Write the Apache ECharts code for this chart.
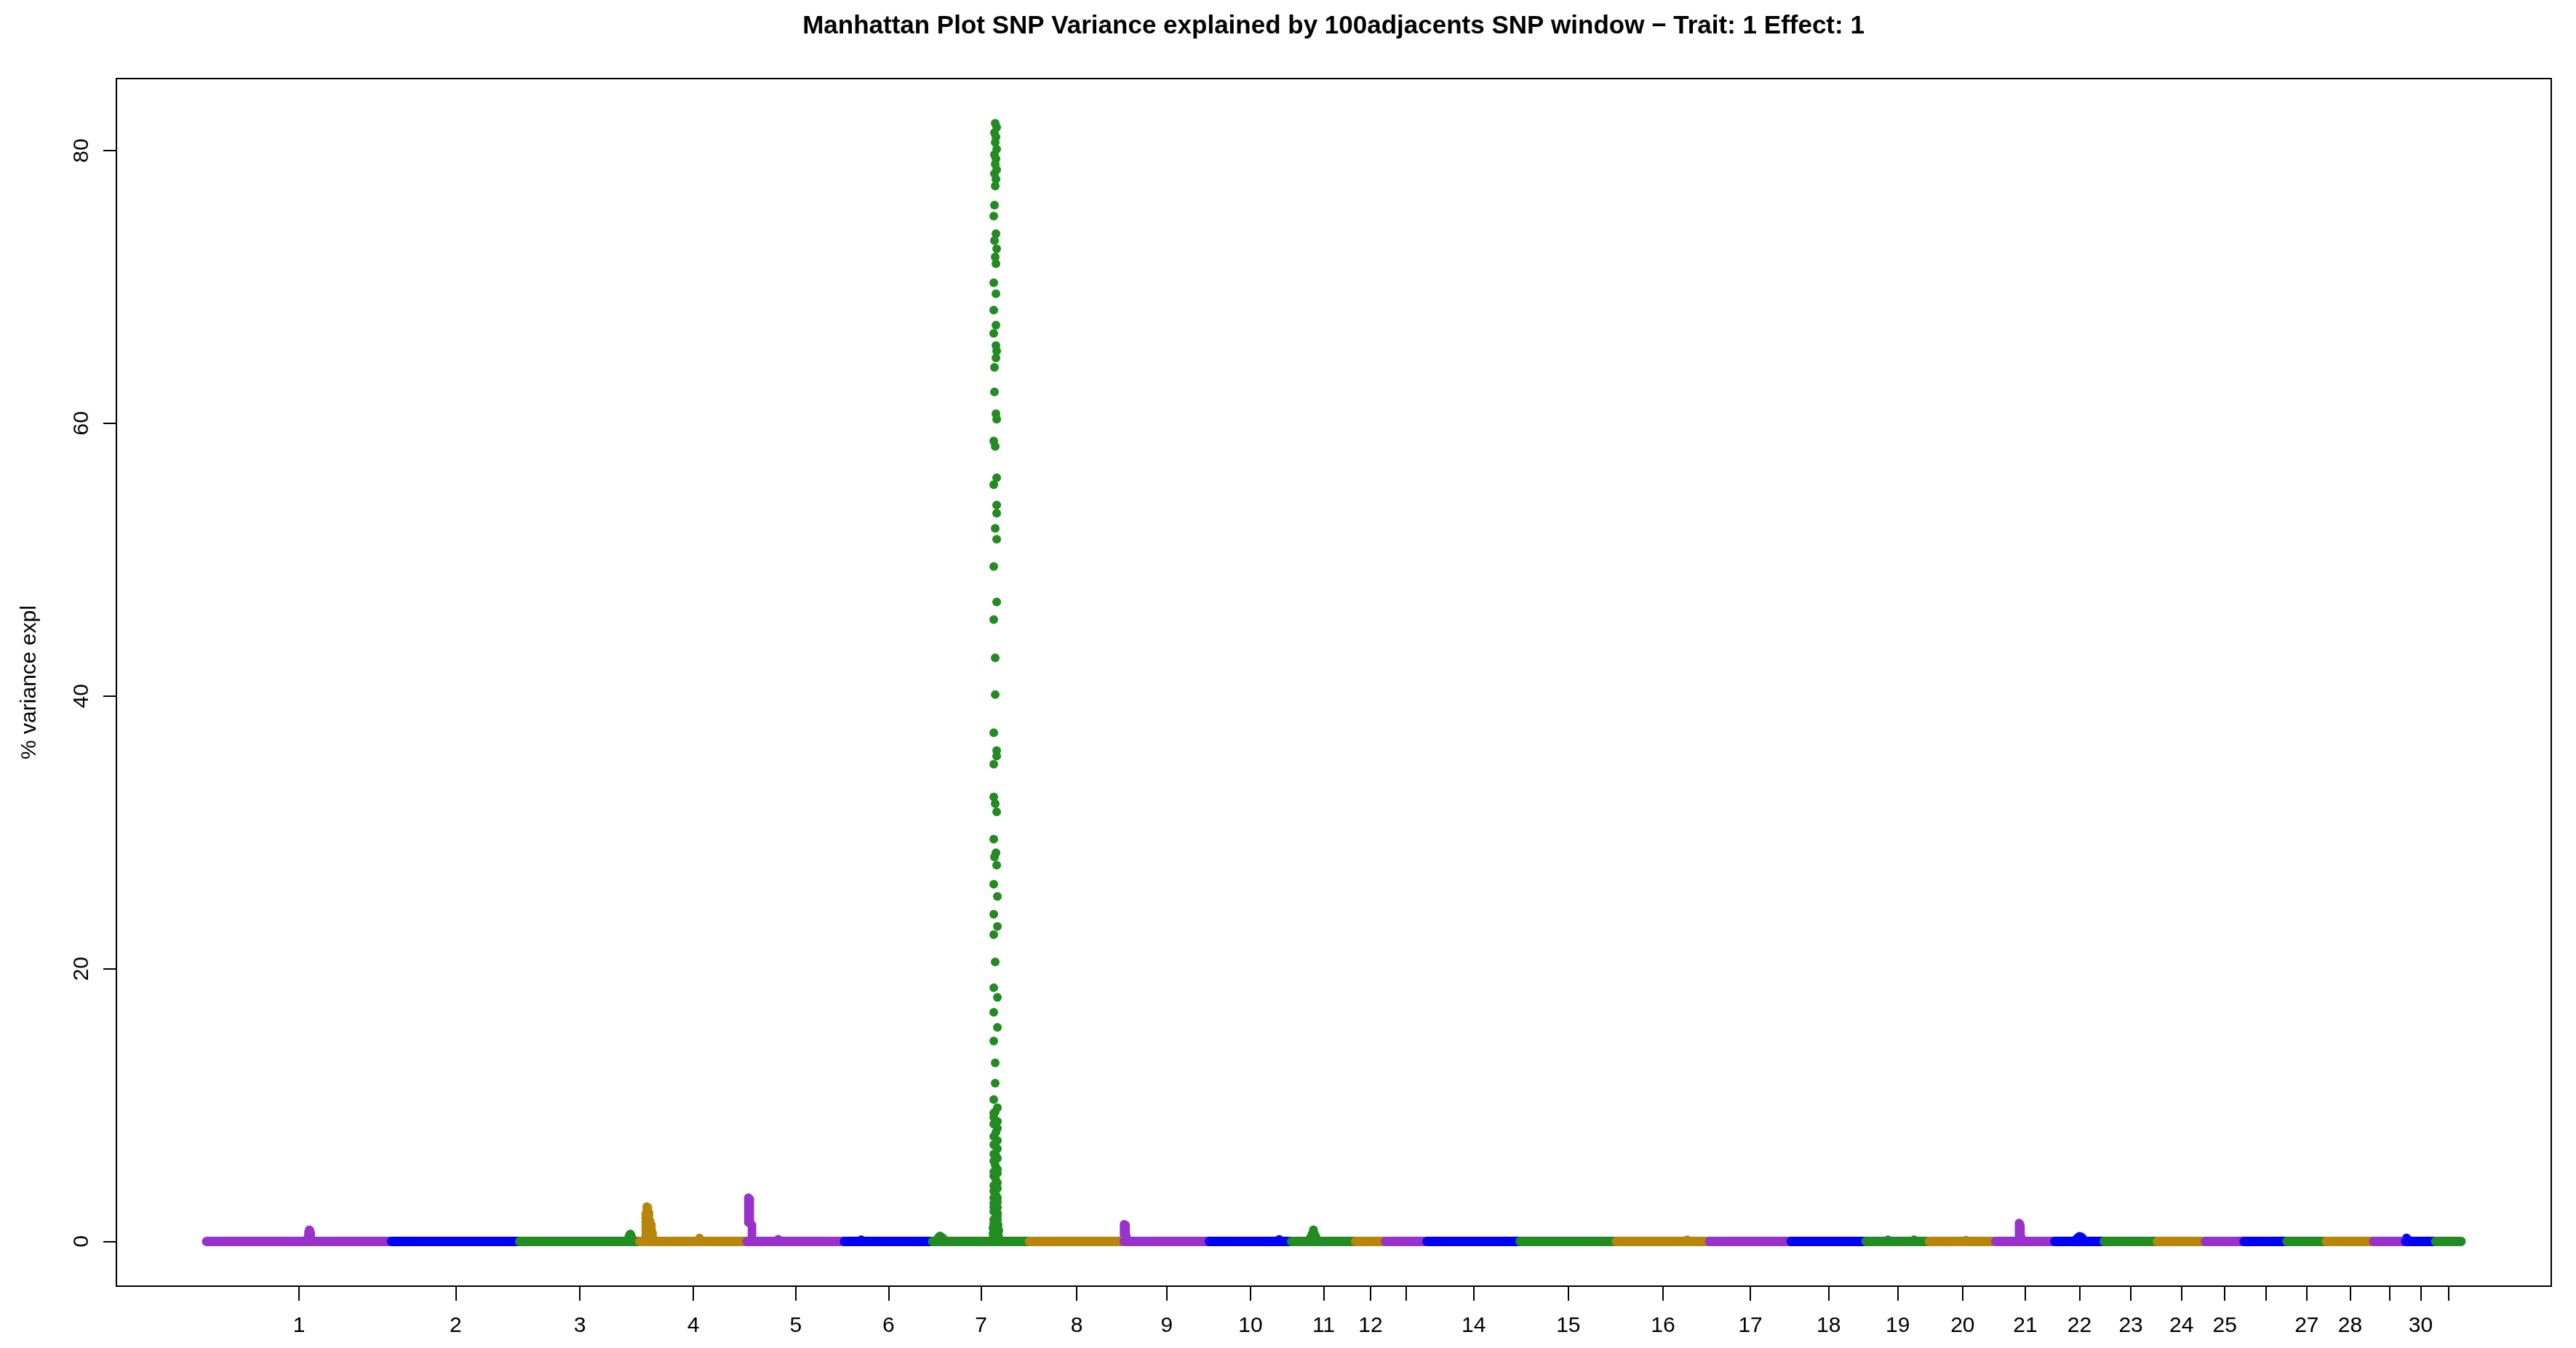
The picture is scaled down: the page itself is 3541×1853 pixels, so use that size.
<!DOCTYPE html>
<html>
<head>
<meta charset="utf-8">
<script src="https://cdn.jsdelivr.net/npm/echarts@6/dist/echarts.min.js"></script>
<style>
html,body{margin:0;padding:0;background:#fff;}
#chart{width:3541px;height:1853px;}
</style>
</head>
<body>
<div id="chart"></div>
<script>
// ---- data ----
const chrNames = ['1','2','3','4','5','6','7','8','9','10','11','12','13','14','15','16','17','18','19','20','21','22','23','24','25','26','27','28','29','30','31'];
const tickLabels = ['1','2','3','4','5','6','7','8','9','10','11','12','','14','15','16','17','18','19','20','21','22','23','24','25','','27','28','','30',''];
// chromosome lengths (genome-wide index units)
const chrLen = [2540,1760,1650,1470,1340,1210,1330,1300,1170,1130,880,410,570,1280,1320,1280,1120,1030,870,910,810,680,730,660,530,590,540,650,440,410,350];
const chrColors = ['#9932CC','#0000FF','#228B22','#B8860B'];
// SNPs above background (position, % variance explained); all other SNPs ~0
const elevatedSNPs = [
  [1390,0.3],[1400,0.5],[1400,0.7],[1410,0.85],[1420,0.8],[1430,0.6],[1430,0.4],[1440,0.2],
  [5790,0.2],[5800,0.35],[5810,0.5],[5820,0.55],[5830,0.45],[5840,0.3],
  [6030,0.2],[6030,0.5],[6030,0.8],[6030,1.1],[6030,1.4],[6030,1.7],[6030,2.0],
  [6045,0.4],[6045,0.8],[6045,1.2],[6045,1.6],[6045,2.0],[6045,2.3],[6045,2.55],
  [6060,0.3],[6060,0.7],[6060,1.1],[6060,1.5],[6060,1.9],[6060,2.3],[6060,2.5],
  [6075,0.3],[6075,0.7],[6075,1.1],[6075,1.5],[6075,1.9],[6075,2.1],
  [6090,0.3],[6090,0.7],[6090,1.1],[6090,1.5],
  [6110,0.3],[6110,0.6],[6110,0.9],[6110,1.2],
  [6125,0.3],[6125,0.6],[6140,0.2],
  [6760,0.15],[6770,0.25],[6780,0.15],
  [7440,3.2],[7440,3.0],[7440,2.8],[7440,2.6],[7440,2.4],[7440,2.2],[7440,2.0],[7440,1.8],[7440,1.6],[7440,1.4],[7460,3.1],[7460,2.9],[7460,2.7],[7460,2.5],[7460,2.3],[7460,2.1],[7460,1.9],[7460,1.7],[7460,1.5],[7470,1.3],[7490,1.2],[7490,1.0],[7490,0.8],[7490,0.6],[7490,0.4],[7490,0.2],[7850,0.16],
  [8990,0.12],
  [10030,0.15],[10050,0.3],[10070,0.4],[10090,0.35],[10110,0.25],[10130,0.15],
  [10830,82.0],[10850,81.7],[10820,81.3],[10840,81.0],[10830,80.6],[10850,80.1],[10820,79.7],[10840,79.4],[10830,79.0],[10850,78.6],[10820,78.3],[10840,77.9],[10830,77.4],[10820,76.0],[10810,75.2],[10840,73.9],[10820,73.4],[10850,72.8],[10830,72.2],[10840,71.7],[10810,70.3],[10840,69.5],[10810,68.3],[10840,67.2],[10810,66.6],[10840,65.7],[10850,65.3],[10840,64.8],[10820,64.1],[10820,62.3],[10840,60.7],[10850,60.3],[10810,58.7],[10830,58.3],[10850,56.0],[10810,55.5],[10850,54.0],[10850,53.4],[10830,52.3],[10850,51.5],[10810,49.5],[10850,46.9],[10810,45.6],[10830,42.8],[10830,40.1],[10810,37.3],[10850,36.0],[10850,35.6],[10810,35.0],[10810,32.6],[10830,32.1],[10850,31.5],[10810,29.5],[10840,28.5],[10820,28.2],[10850,27.6],[10810,26.2],[10860,25.3],[10810,24.0],[10860,23.1],[10810,22.5],[10830,20.5],[10810,18.6],[10860,17.9],[10810,16.8],[10860,15.7],[10810,14.7],[10830,13.1],[10830,11.6],[10810,10.4],[10860,9.8],[10810,9.1],[10860,8.3],[10810,7.7],[10860,6.8],[10810,5.9],[10860,5.3],[10810,4.8],[10860,4.3],[10810,3.7],[10860,3.2],[10810,2.8],[10860,2.5],[10810,2.2],[10860,1.9],[10810,1.6],[10860,1.3],[10810,1.0],[10860,0.7],[10830,0.4],
  [10830,9.5],[10840,8.0],[10830,7.0],[10840,6.3],[10830,5.6],[10840,4.5],[10830,3.9],[10840,3.4],[10830,2.6],[10840,2.0],[10830,1.5],[10840,0.9],[10870,1.2],[10800,0.6],[10880,0.3],
  [10810,9.4],[10860,8.8],[10810,8.6],[10860,7.4],[10810,7.1],[10860,6.1],[10810,6.4],[10860,5.0],[10810,5.1],[10860,3.9],[10810,4.1],[10860,2.9],[10810,3.2],[10860,2.1],[10810,2.5],[10860,1.6],[10810,1.3],[10860,1.0],[10810,0.7],[10870,0.5],[10800,0.3],[10880,0.8],[10800,1.0],
  [12600,1.25],[12600,1.05],[12600,0.85],[12600,0.65],[12600,0.45],[12600,0.25],[12620,1.2],[12620,1.0],[12620,0.8],[12620,0.6],[12630,0.4],[12640,0.2],
  [14730,0.15],
  [15160,0.3],[15180,0.55],[15200,0.85],[15200,0.7],[15210,0.6],[15230,0.4],[15240,0.2],
  [20330,0.12],
  [23090,0.12],[23450,0.12],
  [24160,0.1],
  [24890,1.35],[24890,1.15],[24890,0.95],[24890,0.75],[24890,0.55],[24890,0.35],[24900,1.3],[24910,1.1],[24910,0.9],[24910,0.7],[24910,0.5],[24920,0.3],
  [25680,0.2],[25700,0.3],[25720,0.38],[25740,0.35],[25760,0.25],
  [30210,0.25],[30230,0.15]
];
const yTicks = [0,20,40,60,80];
const titleText = 'Manhattan Plot SNP Variance explained by 100adjacents SNP window \u2212 Trait: 1 Effect: 1';
const yName = '% variance expl';

// ---- build ----
const starts = [], ends = [], centers = [];
let acc = 0;
chrLen.forEach(l => { starts.push(acc); ends.push(acc + l); centers.push(acc + l / 2); acc += l; });
const total = acc;
const yMaxData = Math.max(...elevatedSNPs.map(d => d[1]));
const yPad = yMaxData * 0.04;
const xPad = total * 0.04;

const series = [];
chrLen.forEach((l, i) => {
  const color = chrColors[i % 4];
  series.push({
    type: 'line', data: [[starts[i], 0], [ends[i], 0]],
    symbol: 'none', silent: true, animation: false,
    lineStyle: { color: color, width: 13, cap: 'round' }
  });
  const pts = elevatedSNPs.filter(d => d[0] >= starts[i] && d[0] < ends[i]);
  series.push({
    type: 'scatter', data: pts, symbol: 'circle', symbolSize: 12,
    silent: true, animation: false,
    itemStyle: { color: color, opacity: 1 }
  });
});

const font = 'Liberation Sans';
const chart = echarts.init(document.getElementById('chart'), null, { renderer: 'canvas' });
chart.setOption({
  backgroundColor: '#ffffff',
  animation: false,
  grid: { left: 160, right: 34, top: 108, bottom: 85, show: true, borderColor: '#000', borderWidth: 2, backgroundColor: 'transparent' },
  xAxis: {
    type: 'value', min: -xPad, max: total + xPad,
    axisLine: { show: true, onZero: false, lineStyle: { color: '#000', width: 2 } },
    splitLine: { show: false },
    axisTick: { show: true, customValues: centers, length: 20, inside: false, lineStyle: { color: '#000', width: 2 } },
    axisLabel: {
      show: true, customValues: centers, margin: 40, color: '#000', fontSize: 30, fontFamily: font,
      formatter: function (v) {
        for (let i = 0; i < centers.length; i++) { if (Math.abs(centers[i] - v) < 1) return tickLabels[i]; }
        return '';
      }
    }
  },
  yAxis: {
    type: 'value', min: -yPad, max: yMaxData + yPad,
    name: yName, nameLocation: 'middle', nameRotate: 90, nameGap: 104,
    nameTextStyle: { color: '#000', fontSize: 30, fontFamily: font },
    axisLine: { show: true, onZero: false, lineStyle: { color: '#000', width: 2 } },
    splitLine: { show: false },
    axisTick: { show: true, customValues: yTicks, length: 18, lineStyle: { color: '#000', width: 2 } },
    axisLabel: { show: true, customValues: yTicks, rotate: 90, margin: 32, color: '#000', fontSize: 30, fontFamily: font }
  },
  graphic: [{
    type: 'text', x: 1833, y: 36,
    style: { text: titleText, textAlign: 'center', textVerticalAlign: 'middle', fill: '#000', font: 'bold 35px "Liberation Sans"' }
  }],
  series: series
});
</script>
</body>
</html>
